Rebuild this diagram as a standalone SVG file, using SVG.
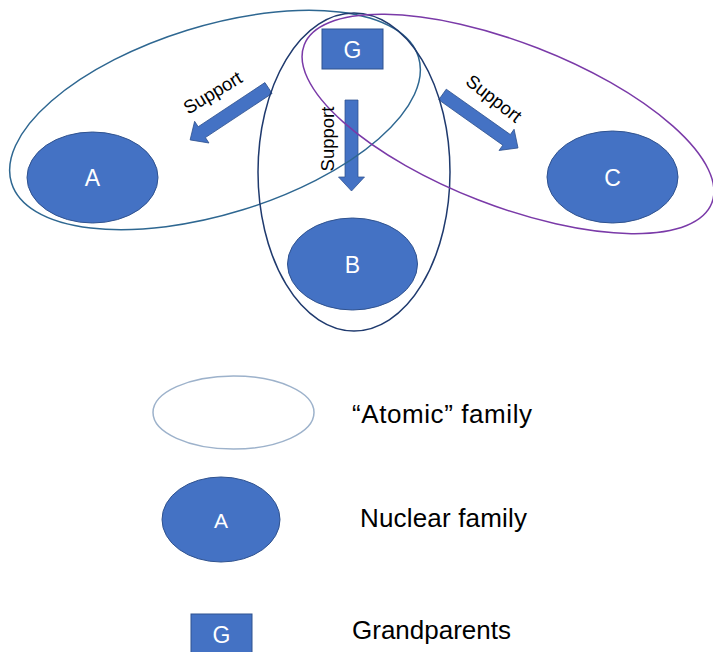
<svg xmlns="http://www.w3.org/2000/svg" width="713" height="652" viewBox="0 0 713 652">
  <style>
    .node { fill: #4472C4; stroke: #2F528F; stroke-width: 1; }
    .nlabel { font-family: "Liberation Sans", Arial, sans-serif; font-size: 23px; fill: #FFFFFF; text-anchor: middle; }
    .arrow { fill: #4472C4; stroke: #2F528F; stroke-width: 0.75; }
    .sup { font-family: "Liberation Sans", Arial, sans-serif; font-size: 18.5px; fill: #000000; text-anchor: middle; }
    .leg { font-family: "Liberation Sans", Arial, sans-serif; font-size: 26px; fill: #000000; }
    .atom { fill: none; stroke-width: 1.5; }
  </style>
  <rect width="713" height="652" fill="#FFFFFF"/>

  <g id="connectors">
    <polygon class="arrow" transform="translate(268.5,88) rotate(146.5)" points="0,-6.5 80,-6.5 80,-13 94,0 80,13 80,6.5 0,6.5"/>
    <polygon class="arrow" transform="translate(351.5,100) rotate(90)" points="0,-6.5 77,-6.5 77,-13 91,0 77,13 77,6.5 0,6.5"/>
    <polygon class="arrow" transform="translate(442.5,94.5) rotate(35.3)" points="0,-6.5 78.5,-6.5 78.5,-13 92.5,0 78.5,13 78.5,6.5 0,6.5"/>
  </g>

  <g id="atomic-A">
    <ellipse class="atom" stroke="#2E6791" cx="215" cy="120" rx="213" ry="94" transform="rotate(-17.2 215 120)"/>
  </g>
  <g id="atomic-B">
    <ellipse class="atom" stroke="#1F3A6E" cx="354" cy="172" rx="96" ry="159"/>
  </g>
  <g id="atomic-C">
    <ellipse class="atom" stroke="#7A3AA8" cx="508" cy="124" rx="218.6" ry="81.5" transform="rotate(21.2 508 124)"/>
  </g>

  <g id="node-A">
    <ellipse class="node" cx="92.5" cy="177.5" rx="65.5" ry="45.5"/>
    <text class="nlabel" x="92.5" y="186">A</text>
  </g>
  <g id="node-B">
    <ellipse class="node" cx="352.5" cy="264" rx="65" ry="46"/>
    <text class="nlabel" x="352.5" y="272.5">B</text>
  </g>
  <g id="node-C">
    <ellipse class="node" cx="612.5" cy="177" rx="65.5" ry="46"/>
    <text class="nlabel" x="612.5" y="185.5">C</text>
  </g>
  <g id="node-G">
    <rect class="node" x="322" y="29" width="61" height="40"/>
    <text class="nlabel" x="352.5" y="57.5">G</text>
  </g>

  <g id="labels">
    <text class="sup" transform="translate(216,98) rotate(-31)">Support</text>
    <text class="sup" transform="translate(334,139) rotate(-90)">Support</text>
    <text class="sup" transform="translate(490,103.5) rotate(38)">Support</text>
  </g>

  <g id="legend-atomic">
    <ellipse class="atom" stroke="#9DB2CB" cx="233.5" cy="412.5" rx="80.5" ry="36.5"/>
    <text class="leg" x="352" y="423" textLength="180">“Atomic” family</text>
  </g>
  <g id="legend-nuclear">
    <ellipse class="node" cx="221" cy="519.5" rx="59" ry="42.5"/>
    <text class="nlabel" x="221" y="527.5" style="font-size:21px">A</text>
    <text class="leg" x="360" y="527" textLength="167">Nuclear family</text>
  </g>
  <g id="legend-grand">
    <rect class="node" x="191" y="614" width="61" height="42"/>
    <text class="nlabel" x="221.5" y="642.5">G</text>
    <text class="leg" x="352" y="639" textLength="159">Grandparents</text>
  </g>
</svg>
